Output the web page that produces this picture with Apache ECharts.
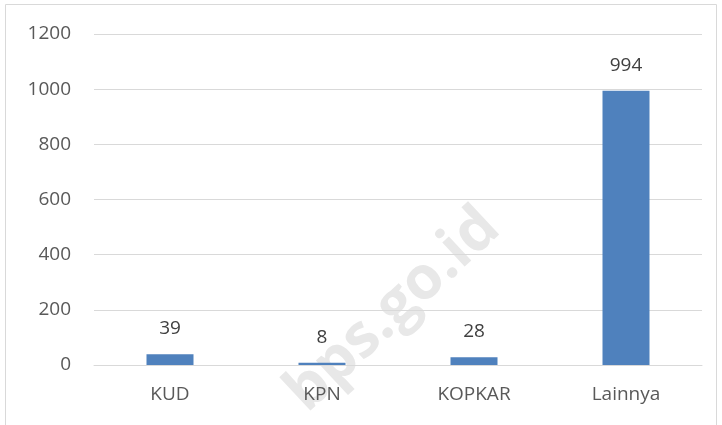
<!DOCTYPE html>
<html>
<head>
<meta charset="utf-8">
<script src="https://cdn.jsdelivr.net/npm/echarts@6/dist/echarts.min.js"></script>
<style>
  html, body { margin: 0; padding: 0; background: #fff; }
  #chart { width: 722px; height: 425px; }
</style>
</head>
<body>
<div id="chart"></div>
<script>
const categories = ["KUD", "KPN", "KOPKAR", "Lainnya"];
const values = [39, 8, 28, 994];
const yTicks = { min: 0, max: 1200, interval: 200 };

const chart = echarts.init(document.getElementById("chart"));
const font = "'Open Sans', 'Liberation Sans', sans-serif";

const option = {
  animation: false,
  grid: { left: 94, right: 20, top: 34, bottom: 60 },
  graphic: [
    {
      type: "rect",
      shape: { x: 5.5, y: 4.5, width: 711, height: 430 },
      style: { fill: "none", stroke: "#d9d9d9", lineWidth: 1 },
      silent: true,
      z: -10
    },
    {
      type: "text",
      x: 393,
      y: 310,
      rotation: Math.PI * 43 / 180,
      style: {
        text: "bps.go.id",
        font: "bold 60px " + font,
        fill: "#e8e8e8",
        textAlign: "center",
        textVerticalAlign: "middle"
      },
      silent: true,
      z: -1
    }
  ],
  xAxis: {
    type: "category",
    data: categories,
    axisLine: { show: true, lineStyle: { color: "#d9d9d9", width: 1 } },
    axisTick: { show: false },
    axisLabel: { color: "#595959", fontSize: 19, fontFamily: font, margin: 20 }
  },
  yAxis: {
    type: "value",
    min: yTicks.min,
    max: yTicks.max,
    interval: yTicks.interval,
    axisLine: { show: false },
    axisTick: { show: false },
    splitLine: { lineStyle: { color: "#d9d9d9", width: 1 } },
    axisLabel: {
      color: "#595959",
      fontSize: 19,
      fontFamily: font,
      margin: 23,
      formatter: function (v) { return String(v); }
    }
  },
  series: [
    {
      type: "bar",
      data: values,
      barWidth: 47,
      itemStyle: { color: "#4f81bd" },
      label: {
        show: true,
        position: "top",
        distance: 16,
        color: "#404040",
        fontSize: 19,
        fontFamily: font
      }
    }
  ]
};

chart.setOption(option);
</script>
</body>
</html>
